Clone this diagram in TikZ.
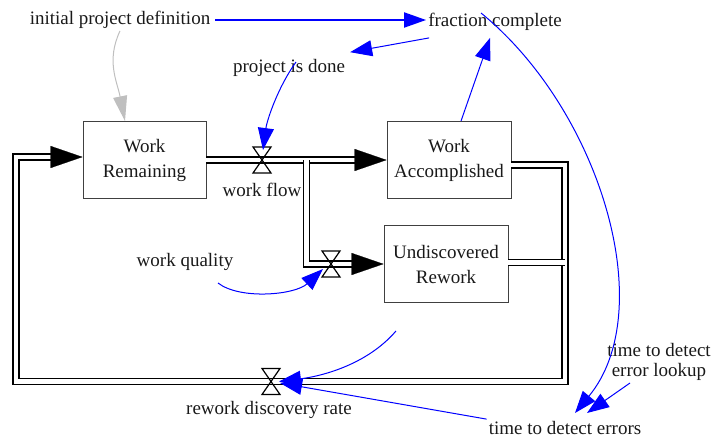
\documentclass[tikz,border=0pt]{standalone}
\usepackage{fontspec}
\setmainfont{Liberation Serif}
\usetikzlibrary{arrows.meta,calc}
\begin{document}
\begin{tikzpicture}[x=1pt,y=-1pt,
  every node/.style={font=\fontsize{19}{25}\selectfont, inner sep=2pt, text=black!90},
  stock/.style={draw=black!75, line width=0.9pt, fill=white, minimum width=123pt, minimum height=77pt, align=center},
  pipe/.style={draw=black, line width=1.8pt, double=white, double distance=4.2pt, line join=miter},
  bigtip/.style={-{Triangle[length=32pt,width=22pt]}, line width=0.2pt, draw=black},
  valvest/.style={draw=black, line width=1.2pt, line join=miter},
  info/.style={draw=blue, line width=1pt, -{Triangle[length=22pt,width=16pt]}},
  grayinfo/.style={draw=black!25, line width=1pt, -{Triangle[length=25pt,width=14pt]}},
]
\useasboundingbox (0,0) rectangle (714,439);

% stocks
\node[stock] (wr) at (144.5,160) {Work\\Remaining};
\node[stock, minimum width=124pt] (wa) at (449,160) {Work\\Accomplished};
\node[stock, minimum width=124pt] (ur) at (446,264) {Undiscovered\\Rework};

% pipe geometry
\coordinate (v1) at (262,160);
\coordinate (v2) at (331,264);
\coordinate (v3) at (271,381.5);
\coordinate (br) at (306.5,160);
\coordinate (ne) at (565,165);
\coordinate (se) at (565,381.5);
\coordinate (sw) at (16,381.5);
\coordinate (nw) at (16,157);
\coordinate (uro) at ([yshift=1.5pt]ur.east);

% pipes
\draw[pipe] (wr.east) -- ([xshift=-31pt]wa.west);
\draw[bigtip] ([xshift=-32pt]wa.west) -- (wa.west);
\draw[pipe] (br) -- (br |- v2) -- ([xshift=-31pt]ur.west);
\draw[bigtip] ([xshift=-32pt]ur.west) -- (ur.west);
\draw[pipe] ([yshift=-5pt]wa.east) -- (ne) -- (se) -- (sw) -- (nw) -- ([xshift=-31pt,yshift=3pt]wr.west);
\draw[bigtip] ([xshift=-32pt,yshift=3pt]wr.west) -- ([yshift=3pt]wr.west);
\draw[pipe] (uro) -- (uro -| ne);

% valves
\foreach \v in {v1,v2,v3}
  \draw[valvest] ([shift={(-9,-13)}]\v) -- ([shift={(9,-13)}]\v) -- ([shift={(-9,13)}]\v) -- ([shift={(9,13)}]\v) -- cycle;

% labels
\node (ipd) at (120,20) {initial project definition};
\node (fc) at (495,22) {fraction complete};
\node (pid) at (289,68) {project is done};
\node (wf) at (262,190) {work flow};
\node (wq) at (185,262) {work quality};
\node (rdr) at (269,410) {rework discovery rate};
\node (tde) at (565,428) {time to detect errors};
\node[align=center, font=\fontsize{19}{20}\selectfont] (tdel) at (659,362) {time to detect\\error lookup};

% information links
\coordinate (ipde) at ([xshift=3pt]ipd.east);
\draw[info, line width=2pt, -{Triangle[length=22pt,width=15pt]}] (ipde) -- (ipde -| fc.west);
\draw[grayinfo] (ipd.south) .. controls +(-14,30) and +(-8,-40) .. ([xshift=-19.5pt]wr.north);
\draw[info] ([xshift=3pt,yshift=-5pt]fc.south west) -- ([xshift=3pt,yshift=5pt]pid.north east);
\draw[info] ([xshift=7pt,yshift=6pt]pid.center) .. controls +(-18,25) and +(4,-30) .. ([xshift=1pt,yshift=10pt]v1);
\draw[info] ([xshift=12pt]wa.north) -- ([xshift=-5pt,yshift=-5pt]fc.south);
\draw[info] ([xshift=-14pt,yshift=9pt]fc.center) .. controls +(119,97) and +(85,-103) .. ([xshift=10pt,yshift=15pt]tde.center);
\draw[info] ([xshift=-29pt,yshift=-21pt]tdel.center) -- ([xshift=22pt,yshift=15pt]tde.center);
\draw[info] (tde.north west) -- ([xshift=9pt,yshift=-1.5pt]v3);
\draw[info] ([xshift=-50pt,yshift=-28pt]ur.south) .. controls +(-30,35) and +(40,-5) .. ([xshift=8pt]v3);
\draw[info] ([xshift=33pt,yshift=-21pt]wq.center) .. controls +(22,17) and +(-28,26) .. ([xshift=-8pt,yshift=-5pt]v2);
\end{tikzpicture}
\end{document}
